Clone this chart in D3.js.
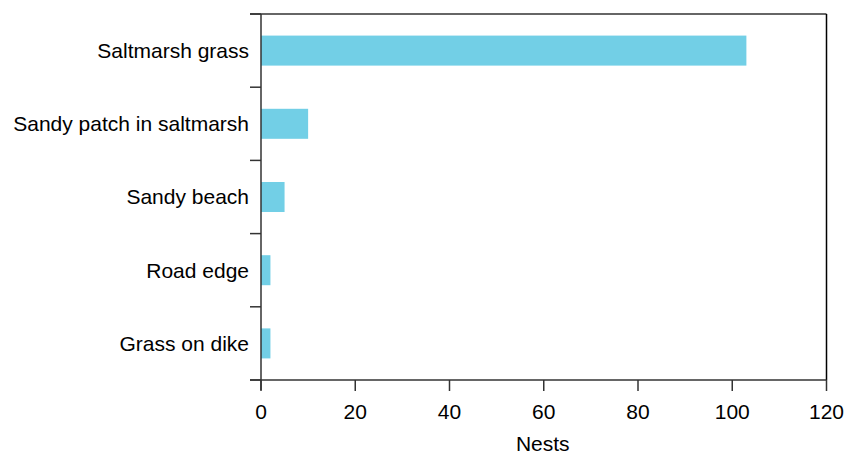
<!DOCTYPE html>
<html><head><meta charset="utf-8">
<script src="https://cdn.jsdelivr.net/npm/d3@7"></script>
<style>body{margin:0;background:#fff}text{font-family:"Liberation Sans",Arial,sans-serif}</style>
</head><body>
<svg id="c" width="846" height="454"></svg>
<script>
const categories = ["Saltmarsh grass","Sandy patch in saltmarsh","Sandy beach","Road edge","Grass on dike"];
const nests = [103,10,5,2,2];
const xTicks = [0,20,40,60,80,100,120];
const xTitle = "Nests";

const svg = d3.select("#c");
const L=261, R=826.5, T=14, B=380;
const FS = 21;
const x = d3.scaleLinear().domain([0,120]).range([L,R]);
const y = d3.scaleBand().domain(categories).range([T,B]).paddingInner(0.59).paddingOuter(0.295);

svg.selectAll("rect.bar").data(categories).join("rect").attr("class","bar")
  .attr("x",x(0)).attr("y",d=>y(d)).attr("width",(d,i)=>x(nests[i])-x(0)).attr("height",y.bandwidth())
  .attr("fill","#72cfe6");

const ax = "#333";
svg.append("line").attr("x1",250).attr("x2",R).attr("y1",T).attr("y2",T).attr("stroke",ax).attr("stroke-width",1.5);
svg.append("line").attr("x1",R).attr("x2",R).attr("y1",T).attr("y2",B).attr("stroke","#000").attr("stroke-width",1.5);
svg.append("line").attr("x1",L).attr("x2",L).attr("y1",T).attr("y2",B+10).attr("stroke",ax).attr("stroke-width",1.5);
svg.append("line").attr("x1",250).attr("x2",R).attr("y1",B).attr("y2",B).attr("stroke",ax).attr("stroke-width",1.5);
const bounds = d3.range(categories.length+1).map(i=>T+i*y.step());
svg.selectAll("line.yt").data(bounds).join("line").attr("class","yt")
  .attr("x1",250).attr("x2",L).attr("y1",d=>d).attr("y2",d=>d).attr("stroke",ax).attr("stroke-width",1.5);
svg.selectAll("text.yl").data(categories).join("text").attr("class","yl")
  .attr("x",249).attr("y",d=>y(d)+y.bandwidth()/2).attr("dy","0.35em").attr("text-anchor","end")
  .attr("font-size",FS).attr("fill","#000").text(d=>d);
svg.selectAll("line.xt").data(xTicks).join("line").attr("class","xt")
  .attr("x1",d=>x(d)).attr("x2",d=>x(d)).attr("y1",B).attr("y2",B+11).attr("stroke",ax).attr("stroke-width",1.5);
svg.selectAll("text.xl").data(xTicks).join("text").attr("class","xl")
  .attr("x",d=>x(d)).attr("y",412).attr("dy","0.35em").attr("text-anchor","middle")
  .attr("font-size",FS).attr("fill","#000").text(d=>d);
svg.append("text").attr("x",(L+R)/2-1).attr("y",444).attr("dy","0.35em").attr("text-anchor","middle")
  .attr("font-size",FS).attr("fill","#000").text(xTitle);
</script>
</body></html>
